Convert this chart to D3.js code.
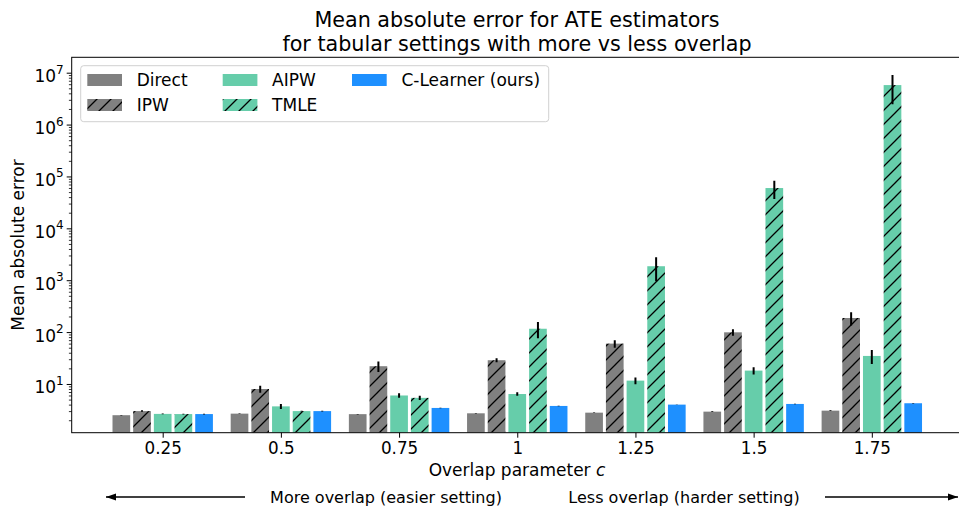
<!DOCTYPE html>
<html><head><meta charset="utf-8">
<script src="https://cdn.jsdelivr.net/npm/d3@7"></script>
<style>body{margin:0;background:#fff}svg{display:block;font-family:"DejaVu Sans",sans-serif}</style>
</head><body><svg id="c" width="959" height="508"></svg>
<script>
const categories = ["0.25","0.5","0.75","1","1.25","1.5","1.75"];
const seriesNames = ["Direct","IPW","AIPW","TMLE","C-Learner (ours)"];
const direct    = [2.5, 2.68, 2.62, 2.72, 2.8, 2.93, 3.06];
const directErr = [0.03, 0.03, 0.03, 0.03, 0.03, 0.04, 0.04];
const ipw       = [3.0, 8.0, 22, 28.7, 60, 99, 187];
const ipwErr    = [0.1, 1.2, 5, 2.6, 10, 14, 53];
const aipw      = [2.65, 3.7, 6.0, 6.4, 11.6, 18.1, 34.7];
const aipwErr   = [0.05, 0.4, 0.6, 0.5, 1.7, 2.8, 10.5];
const tmle      = [2.63, 3.0, 5.4, 116, 1860, 59800, 5770000];
const tmleErr   = [0.05, 0.05, 0.5, 40, 900, 23000, 3300000];
const clearner  = [2.63, 3.0, 3.45, 3.77, 4.0, 4.12, 4.25];
const clearnerErr = [0.04, 0.04, 0.04, 0.04, 0.04, 0.04, 0.04];
const yTickValues = [1e1,1e2,1e3,1e4,1e5,1e6,1e7];
const yTickExps = ["1","2","3","4","5","6","7"];

const values = [direct, ipw, aipw, tmle, clearner];
const errs = [directErr, ipwErr, aipwErr, tmleErr, clearnerErr];
const colors = ["#808080","#808080","#66CDAA","#66CDAA","#1E90FF"];
const hatched = [false,true,false,true,false];

const svg = d3.select("#c");
const L = 71.7, R = 964, T = 57.3, B = 432.7;
const x = d3.scaleLinear().domain([-0.77, 6.78]).range([L, R]);
const y = d3.scaleLog().domain([1.15, 1.98e7]).range([B, T]);
const barW = 0.175;

const defs = svg.append("defs");
const P = 14;
defs.append("clipPath").attr("id","plot").append("rect").attr("x",L).attr("y",T).attr("width",R-L).attr("height",B-T);
colors.forEach((c,j)=>{
  if(!hatched[j]) return;
  const p = defs.append("pattern").attr("id","h"+j).attr("patternUnits","userSpaceOnUse").attr("width",P).attr("height",P);
  p.append("rect").attr("width",P).attr("height",P).attr("fill",c);
  p.append("path").attr("d",`M0,${P} L${P},0 M${-P/4},${P/4} L${P/4},${-P/4} M${3*P/4},${5*P/4} L${5*P/4},${3*P/4}`)
    .attr("stroke","#000").attr("stroke-width",1.3);
});
defs.append("marker").attr("id","ah").attr("viewBox","0 0 10 10").attr("refX",10).attr("refY",5)
  .attr("markerWidth",6.5).attr("markerHeight",6.5).attr("orient","auto-start-reverse")
  .append("path").attr("d","M0,1.5 L10,5 L0,8.5 z").attr("fill","#000");

// bars
const g = svg.append("g").attr("clip-path","url(#plot)");
values.forEach((vals,j)=>{
  vals.forEach((v,i)=>{
    const cx = x(i + (j-2)*barW);
    const w = x(barW)-x(0);
    g.append("rect").attr("x",cx-w/2+1.5).attr("width",w-3).attr("y",y(v)).attr("height",B-y(v))
      .attr("fill", hatched[j] ? `url(#h${j})` : colors[j]);
  });
});
values.forEach((vals,j)=>{
  vals.forEach((v,i)=>{
    const cx = x(i + (j-2)*barW);
    const e = errs[j][i];
    g.append("line").attr("x1",cx).attr("x2",cx).attr("y1",y(Math.max(v-e,1.0001))).attr("y2",y(v+e))
      .attr("stroke","#000").attr("stroke-width",2);
  });
});

// axes
const xAxis = d3.axisBottom(x).tickValues(d3.range(categories.length)).tickFormat(i=>categories[i]).tickSize(5).tickPadding(4);
const gx = svg.append("g").attr("transform",`translate(0,${B})`).call(xAxis);
gx.select(".domain").remove();
gx.selectAll("text").attr("font-size",16.8).attr("font-family","DejaVu Sans").attr("fill","#000");
gx.selectAll("line").attr("stroke","#000").attr("stroke-width",1);

const minors = [];
for(let k=0;k<8;k++) for(let m=2;m<10;m++){const v=m*Math.pow(10,k); if(v>=1.15&&v<=1.98e7) minors.push(v);}
const gym = svg.append("g").attr("transform",`translate(${L},0)`).call(d3.axisLeft(y).tickValues(minors).tickFormat("").tickSize(2.8));
gym.select(".domain").remove();
gym.selectAll("line").attr("stroke","#000").attr("stroke-width",0.8);
const gy = svg.append("g").attr("transform",`translate(${L},0)`).call(d3.axisLeft(y).tickValues(yTickValues).tickFormat("").tickSize(5));
gy.select(".domain").remove();
gy.selectAll("line").attr("stroke","#000").attr("stroke-width",1);
yTickValues.forEach((v,i)=>{
  const t = svg.append("text").attr("x",L-8).attr("y",y(v)+9.5).attr("text-anchor","end").attr("font-size",17).attr("fill","#000");
  t.append("tspan").text("10");
  t.append("tspan").attr("font-size",12).attr("dy",-8.5).text(yTickExps[i]);
});

// frame
svg.append("rect").attr("x",L).attr("y",T).attr("width",R-L).attr("height",B-T).attr("fill","none").attr("stroke","#000").attr("stroke-width",1);

// labels
svg.append("text").attr("x",517).attr("y",27).attr("text-anchor","middle").attr("font-size",20.7).text("Mean absolute error for ATE estimators");
svg.append("text").attr("x",517).attr("y",51).attr("text-anchor","middle").attr("font-size",20.7).text("for tabular settings with more vs less overlap");
const xl = svg.append("text").attr("x",517).attr("y",476).attr("text-anchor","middle").attr("font-size",17);
xl.append("tspan").text("Overlap parameter ");
xl.append("tspan").attr("font-style","italic").text("c");
svg.append("text").attr("transform",`translate(24,${(T+B)/2}) rotate(-90)`).attr("text-anchor","middle").attr("font-size",17).text("Mean absolute error");

svg.append("text").attr("x",386).attr("y",503).attr("text-anchor","middle").attr("font-size",16).text("More overlap (easier setting)");
svg.append("text").attr("x",684).attr("y",503).attr("text-anchor","middle").attr("font-size",16).text("Less overlap (harder setting)");
svg.append("line").attr("x1",245).attr("x2",106).attr("y1",497).attr("y2",497).attr("stroke","#000").attr("stroke-width",1.6).attr("marker-end","url(#ah)");
svg.append("line").attr("x1",825).attr("x2",958).attr("y1",497).attr("y2",497).attr("stroke","#000").attr("stroke-width",1.6).attr("marker-end","url(#ah)");

// legend
svg.append("rect").attr("x",80.7).attr("y",65.7).attr("width",468).attr("height",56).attr("rx",3).attr("fill","#fff").attr("fill-opacity",0.8).attr("stroke","#d0d0d0");
const legPos = [[87.3,80],[87.3,105],[222.7,80],[222.7,105],[352,80]];
seriesNames.forEach((n,j)=>{
  const [lx,ly] = legPos[j];
  svg.append("rect").attr("x",lx).attr("y",ly-6).attr("width",34.7).attr("height",12)
    .attr("fill", hatched[j] ? `url(#h${j})` : colors[j]);
  svg.append("text").attr("x",lx+49.4).attr("y",ly+6).attr("font-size",17).text(n);
});
</script></body></html>
